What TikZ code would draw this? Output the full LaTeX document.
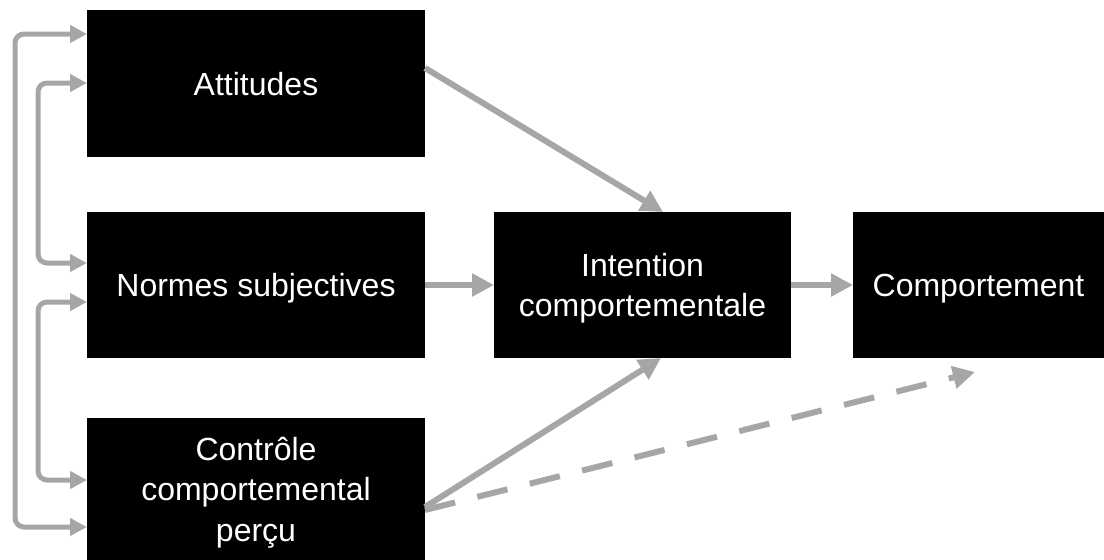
\documentclass[tikz,border=0pt]{standalone}
\usepackage{fontspec}
\setmainfont{Liberation Sans}
\usetikzlibrary{arrows.meta,calc}
\definecolor{conngray}{HTML}{A6A6A6}
\newcommand\boxstrut{\rule[-8pt]{0pt}{39pt}}
\tikzset{
  box/.style={fill=black, draw=none, text=white, outer sep=0pt, inner sep=0pt, align=center,
    font=\fontsize{32}{40.5}\selectfont},
  conn/.style={draw=conngray, line width=6pt, -{Triangle[length=22pt,width=22pt]}},
  side/.style={draw=conngray, line width=5pt, rounded corners=9pt, {Triangle[length=17pt,width=17pt]}-{Triangle[length=17pt,width=17pt]}},
}
\begin{document}
\begin{tikzpicture}[x=1pt,y=-1pt]
\useasboundingbox (0,0) rectangle (1104,560);
\node[box, minimum width=338pt, minimum height=147pt] (att) at (256,83.5) {\boxstrut Attitudes};
\node[box, minimum width=338pt, minimum height=146pt] (nor) at (256,285) {\boxstrut Normes subjectives};
\node[box, minimum width=338pt, minimum height=142pt] (ctl) at (256,489) {\boxstrut Contrôle\\\boxstrut comportemental\\\boxstrut perçu};
\node[box, minimum width=297pt, minimum height=146pt] (int) at (642.5,285) {\boxstrut Intention\\\boxstrut comportementale};
\node[box, minimum width=251pt, minimum height=146pt] (com) at (978.5,285) {\boxstrut Comportement};
\coordinate (dashend) at (975,372);
% main arrows
\draw[conn] ($(att.north east)+(0,58)$) -- ($(int.north west)+(169,0)$);
\draw[conn] (nor.east) -- (int.west);
\draw[conn] (int.east) -- (com.west);
\draw[conn] ($(ctl.north east)+(0,89)$) -- ($(int.south west)+(167,0)$);
\draw[conn, dash pattern=on 31pt off 23pt] ($(ctl.north east)+(0,92)$) -- (dashend);
% left brackets
\draw[side] ($(att.north west)+(0,24)$) -- ++(-72,0) |- ($(ctl.north west)+(0,109)$);
\draw[side] ($(att.north west)+(0,73)$) -- ++(-49,0) |- ($(nor.north west)+(0,51)$);
\draw[side] ($(nor.north west)+(0,90)$) -- ++(-49,0) |- ($(ctl.north west)+(0,62)$);
\end{tikzpicture}
\end{document}
